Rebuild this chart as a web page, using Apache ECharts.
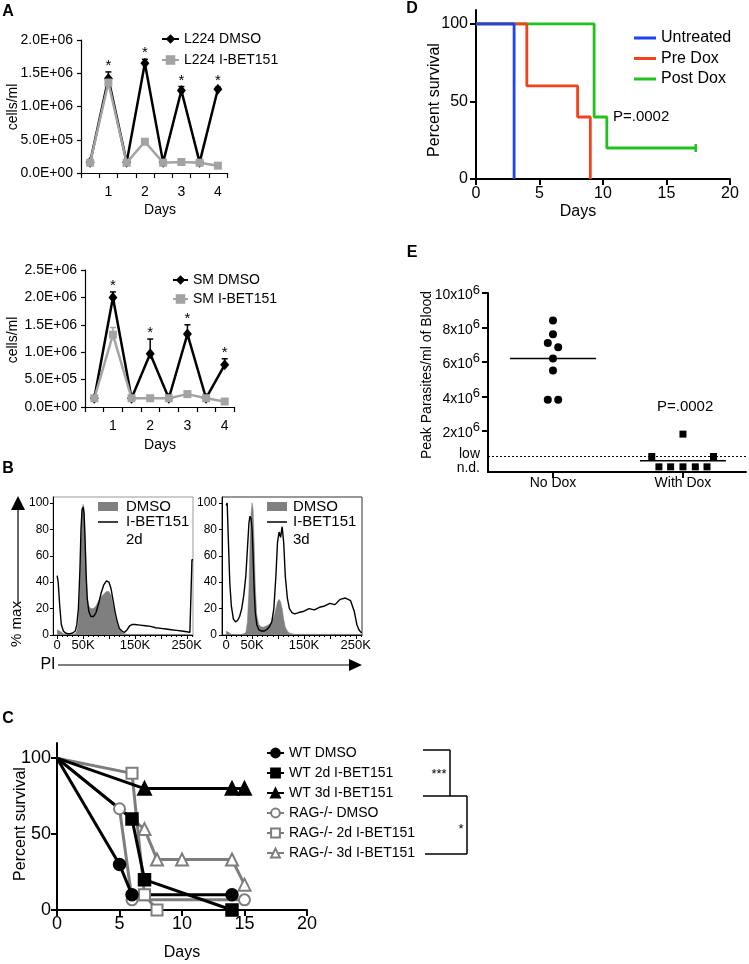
<!DOCTYPE html>
<html><head><meta charset="utf-8">
<script src="https://cdn.jsdelivr.net/npm/echarts@6/dist/echarts.min.js"></script>
<style>html,body{margin:0;padding:0;background:#fff}#c{width:749px;height:964px}</style>
</head><body><div id="c"></div>
<script>
// ---------------- DATA ----------------
// Panel A (top, L224)
const aCategories = ['', '1', '', '2', '', '3', '', '4'];
const aYTickLabels1 = ['0.0E+00', '5.0E+05', '1.0E+06', '1.5E+06', '2.0E+06'];
const aL224Dmso = [1.6e5, 1.42e6, 1.6e5, 1.65e6, 1.6e5, 1.24e6, 1.6e5, 1.26e6];
const aL224DmsoErr = [0, 0.1e6, 0, 0.06e6, 0, 0.06e6, 0, 0.03e6];
const aL224Ibet = [1.55e5, 1.36e6, 1.55e5, 4.7e5, 1.55e5, 1.65e5, 1.55e5, 1.1e5];
const aL224IbetErr = [0, 0.04e6, 0, 0.03e6, 0, 0.04e6, 0, 0];
const aL224Sig = [0, 1, 0, 1, 0, 1, 0, 1];
// Panel A (bottom, SM)
const aYTickLabels2 = ['0.0E+00', '5.0E+05', '1.0E+06', '1.5E+06', '2.0E+06', '2.5E+06'];
const aSmDmso = [1.6e5, 2.0e6, 1.6e5, 0.97e6, 1.6e5, 1.33e6, 1.6e5, 0.77e6];
const aSmDmsoErr = [0, 0.1e6, 0, 0.27e6, 0, 0.17e6, 0, 0.11e6];
const aSmIbet = [1.6e5, 1.32e6, 1.6e5, 1.6e5, 1.6e5, 2.35e5, 1.6e5, 1.0e5];
const aSmIbetErr = [0, 0.13e6, 0, 0, 0, 0.02e6, 0, 0];
const aSmSig = [0, 1, 0, 1, 0, 1, 0, 1];

// Panel B (PI histograms, x in K)
const bXLabels = [0, 50, 150, 250];
const bYLabels = [0, 20, 40, 60, 80, 100];
const b2dBins = [0,2,5,8,12,16,20,25,30,35, 38,41,44,46,48,50,52,54,56,58, 61,65,70,75,80,85,90,95,100,104,
  108,112,116,120,125,130,135,140,145,150, 160,170,180,190,200,210,220,230,240,250, 256,259,260,262];
const b2dIbet = [45,40,22,8,3,1.5,1,1,1.5,3, 8,20,50,80,95,97,92,70,45,28, 18,14,14,17,24,32,38,41,40,35,
  26,17,10,5,3,2,4,7,8,8, 7.5,7,6.5,5.5,5,4.5,4,3.5,3,2.5, 2,2,57,57];
const b2dDmso = [4,4,3,2,1,0.5,0.3,0.3,0.5,1, 3,10,35,70,92,99,96,75,45,28, 22,20,20,22,26,29,31,33,33,30,
  22,14,8,4,2,1,0.5,0.5,0.5,0.5, 0.5,0.5,0.5,0.5,0.5,0.5,0.5,0.5,0.5,0.5, 0.5,0.5,0.5,0];
const b3dBins = [0,2,4,7,10,14,18,22,26,30, 34,38,41,44,46,48,50,52,54,56, 59,63,68,73,78,83,88,92,96,99,
  102,105,108,111,114,118,122,127,132,140, 150,160,170,180,190,200,210,220,230,240, 247,252,256,260,262];
const b3dIbet = [98,100,75,40,22,12,10,11,14,20, 30,45,65,85,90,88,80,60,35,18, 8,4,3,3,4,6,10,20,45,70,
  78,74,82,70,45,28,20,17,16,17, 18,20,19,21,22,24,23,27,28,26, 18,8,4,2,2];
const b3dDmso = [3,3,2,1,0.5,0.3,0.3,0.3,0.3,0.5, 1,2,10,35,70,92,100,95,70,40, 15,8,6,6,7,8,10,14,20,25,
  27,25,20,12,6,3,1.5,1,0.5,0.5, 0.5,0.5,0.5,0.5,0.5,0.5,0.5,0.5,0.5,0.5, 0.5,0.5,0.5,0.5,0];

// Panel C (survival)
const cWtDmsoDays = [0, 5, 6, 14],        cWtDmsoSurv = [100, 30, 10, 10];
const cWt2dDays = [0, 6, 7, 14],          cWt2dSurv = [100, 60, 20, 0];
const cWt3dDays = [0, 7, 14, 15],         cWt3dSurv = [100, 80, 80, 80];
const cRagDmsoDays = [0, 5, 6, 15],       cRagDmsoSurv = [100, 66.7, 6.7, 6.7];
const cRag2dDays = [0, 6, 7, 8],          cRag2dSurv = [100, 90, 10, 0];
const cRag3dDays = [0, 7, 8, 10, 14, 15], cRag3dSurv = [100, 53.3, 33.3, 33.3, 33.3, 16.7];
const cYLabels = [0, 50, 100];

// Panel D (Kaplan-Meier)
const dUntreatedT = [0, 3],            dUntreatedS = [100, 0];
const dPreT = [0, 4, 8, 9],            dPreS = [100, 60, 40, 0];
const dPostT = [0, 9.3, 10.3, 17.3],   dPostS = [100, 40, 20, 20];
const dPostCensorT = [17.3],           dPostCensorS = [20];
const dYLabels = [0, 50, 100];

// Panel E (peak parasitemia)
const eGroups = ['No Dox', 'With Dox'];
const eGroupPos = [1, 3];
const eNoDox = [8.4e6, 7.6e6, 7.1e6, 6.85e6, 6.2e6, 5.5e6, 3.8e6, 3.8e6];
const eNoDoxJitter = [0, 0, -0.08, 0.08, 0, 0, -0.08, 0.08];
const eWithDox = [1.8e6, 0.5e6, 0.5e6, -0.1e6, -0.1e6, -0.1e6, -0.1e6, -0.1e6];
const eWithDoxJitter = [0, -0.48, 0.47, -0.37, -0.19, 0, 0.19, 0.37];
const eMedians = [6.2e6, 0.25e6];
const eLowLimit = 0.5e6;
const eNdValue = -0.1e6;
const eYTicks = [2e6, 4e6, 6e6, 8e6, 10e6];
const eSpecialLabels = ['low', 'n.d.'];

// ---------------- CHART ----------------
const FONT = '"Liberation Sans", Arial, sans-serif';
const FONTNAME = 'Liberation Sans';
const chart = echarts.init(document.getElementById('c'), null, {width: 749, height: 964});

function axis(o) {
  const a = {
    gridIndex: o.grid, type: o.type || 'value',
    splitLine: {show: false},
    axisLine: {show: o.line !== false, onZero: false, lineStyle: {color: o.lc || '#000', width: o.lw || 1}},
    axisTick: {show: o.tick !== false, length: o.tl || 5, lineStyle: {color: '#000', width: o.tw || o.lw || 1}},
    axisLabel: {show: o.label !== false, color: '#000', fontSize: o.fs || 14, fontFamily: FONTNAME, margin: o.m || 8}
  };
  if (o.data) a.data = o.data;
  if (o.min !== undefined) a.min = o.min;
  if (o.max !== undefined) a.max = o.max;
  if (o.interval) a.interval = o.interval;
  if (o.tickVals) a.axisTick.customValues = o.tickVals;
  if (o.labelVals) a.axisLabel.customValues = o.labelVals;
  if (o.fmt) a.axisLabel.formatter = o.fmt;
  if (o.rich) a.axisLabel.rich = o.rich;
  if (o.position) a.position = o.position;
  if (o.type === 'category') { a.axisLabel.interval = 0; a.axisTick.interval = 0; a.boundaryGap = true; }
  return a;
}

const bMajor = [0, 50, 100, 150, 200, 250];
const bMinor = [];
for (let v = 10; v < 262; v += 10) if (v % 50) bMinor.push(v);
const kFmt = v => v === 0 ? '0' : v + 'K';

const grids = [
  {left: 81, top: 40, width: 146, height: 133},
  {left: 85, top: 270, width: 149, height: 137},
  {left: 53, top: 497, width: 140, height: 138, show: true, borderColor: '#9a9a9a', borderWidth: 1, backgroundColor: 'transparent'},
  {left: 222, top: 497, width: 140, height: 138, show: true, borderColor: '#333', borderWidth: 1, backgroundColor: 'transparent'},
  {left: 57, top: 743, width: 250, height: 167},
  {left: 476, top: 10, width: 254, height: 169},
  {left: 488, top: 293, width: 258, height: 179}
];

const xAxis = [
  axis({grid: 0, type: 'category', data: aCategories, lw: 1.2, m: 12}),
  axis({grid: 1, type: 'category', data: aCategories, lw: 1.2, m: 12}),
  axis({grid: 2, min: -8, max: 262, tl: 4, tickVals: bMajor, labelVals: bXLabels, fmt: kFmt, fs: 13, m: 4, position: 'bottom'}),
  axis({grid: 2, min: -8, max: 262, line: false, label: false, tl: 2, tickVals: bMinor, position: 'bottom'}),
  axis({grid: 3, min: -8, max: 262, tl: 4, tickVals: bMajor, labelVals: bXLabels, fmt: kFmt, fs: 13, m: 4, position: 'bottom'}),
  axis({grid: 3, min: -8, max: 262, line: false, label: false, tl: 2, tickVals: bMinor, position: 'bottom'}),
  axis({grid: 4, min: 0, max: 20, interval: 5, lw: 2, tl: 6, fs: 18, m: 5}),
  axis({grid: 5, min: 0, max: 20, interval: 5, lw: 2, tl: 6, fs: 16, m: 7}),
  axis({grid: 6, min: 0, max: 3.97, lw: 2, tl: 6, fs: 14, m: 4, tickVals: eGroupPos, labelVals: eGroupPos,
        fmt: v => eGroups[eGroupPos.indexOf(Math.round(v))] || ''})
];

const yAxis = [
  axis({grid: 0, min: 0, max: 2e6, interval: 5e5, lw: 1.2, tl: 4, fs: 14, m: 8, fmt: v => aYTickLabels1[Math.round(v / 5e5)]}),
  axis({grid: 1, min: 0, max: 2.5e6, interval: 5e5, lw: 1.2, tl: 4, fs: 14, m: 8, fmt: v => aYTickLabels2[Math.round(v / 5e5)]}),
  axis({grid: 2, min: 0, max: 104.5, tl: 3, tickVals: bYLabels, labelVals: bYLabels, fs: 12, m: 4}),
  axis({grid: 3, min: 0, max: 104.5, tl: 3, tickVals: bYLabels, labelVals: bYLabels, fs: 12, m: 5}),
  axis({grid: 4, min: 0, max: 110, lw: 2, tl: 6, tickVals: cYLabels, labelVals: cYLabels, fs: 18, m: 6}),
  axis({grid: 5, min: 0, max: 109, lw: 2, tl: 6, tickVals: dYLabels, labelVals: dYLabels, fs: 16, m: 8}),
  axis({grid: 6, min: -0.4e6, max: 10e6, lw: 2, tl: 6, tickVals: eYTicks, labelVals: eYTicks, fs: 14, m: 8,
        fmt: v => '{m|' + Math.round(v / 1e6) + 'x10}{s|6}',
        rich: {m: {fontSize: 14, fontFamily: FONTNAME, color: '#000', verticalAlign: 'bottom'},
               s: {fontSize: 13, fontFamily: FONTNAME, color: '#000', verticalAlign: 'top', padding: [0, 0, 6, 0]}}})
];

function errSeries(xi, values, errs, sig, color) {
  return {
    type: 'custom', xAxisIndex: xi, yAxisIndex: xi, z: 3, silent: true,
    encode: {x: 0, y: 1},
    data: values.map((v, i) => [i, v, errs[i], sig ? sig[i] : 0]),
    renderItem: (params, api) => {
      const i = api.value(0), v = api.value(1), e = api.value(2), s = api.value(3);
      const p0 = api.coord([i, v]), p1 = api.coord([i, v + e]);
      const ch = [];
      if (e > 0) {
        ch.push({type: 'line', shape: {x1: p0[0], y1: p0[1], x2: p1[0], y2: p1[1]}, style: {stroke: color, lineWidth: 1.5}});
        ch.push({type: 'line', shape: {x1: p1[0] - 3, y1: p1[1], x2: p1[0] + 3, y2: p1[1]}, style: {stroke: color, lineWidth: 1.5}});
      }
      if (s) ch.push({type: 'text', style: {text: '*', x: p1[0], y: p1[1] - 6, align: 'center', verticalAlign: 'middle', font: '15px ' + FONT, fill: '#000'}});
      return {type: 'group', children: ch};
    }
  };
}

function aLine(name, xi, values, dmso) {
  return {
    name, type: 'line', xAxisIndex: xi, yAxisIndex: xi, data: values, z: dmso ? 4 : 5,
    symbol: dmso ? 'diamond' : 'rect', symbolSize: dmso ? [9, 11] : 8,
    itemStyle: {color: dmso ? '#000' : '#a3a3a3'},
    lineStyle: {color: dmso ? '#000' : '#a3a3a3', width: 2.5}
  };
}

function hist(name, xi, yi, bins, vals, filled) {
  return {
    name, type: 'line', xAxisIndex: xi, yAxisIndex: yi, symbol: 'none', smooth: false, z: filled ? 2 : 3,
    data: bins.map((b, i) => [b, vals[i]]),
    lineStyle: filled ? {color: '#7f7f7f', width: 0.5} : {color: '#000', width: 1.4},
    areaStyle: filled ? {color: '#7f7f7f', opacity: 1} : undefined
  };
}

const GRAY = '#7d7d7d';
function cLine(name, days, surv, symbol, color, size) {
  return {
    name, type: 'line', xAxisIndex: 6, yAxisIndex: 4, symbol, symbolSize: size,
    data: days.map((d, i) => i === 0 ? {value: [d, surv[i]], symbol: 'none'} : [d, surv[i]]),
    lineStyle: {color, width: 3},
    itemStyle: {color, borderColor: color, borderWidth: 2.5}
  };
}

function kmLine(name, t, s, color) {
  return {
    name, type: 'line', xAxisIndex: 7, yAxisIndex: 5, step: 'end', symbol: 'none',
    data: t.map((d, i) => [d, s[i]]),
    lineStyle: {color, width: 2.8}, itemStyle: {color}
  };
}

const BLUE = '#1d43f2', RED = '#f5401c', GREEN = '#22c21e';

const series = [
  // A top
  errSeries(0, aL224Dmso, aL224DmsoErr, aL224Sig, '#000'),
  errSeries(0, aL224Ibet, aL224IbetErr, null, '#a3a3a3'),
  aLine('L224 DMSO', 0, aL224Dmso, true),
  aLine('L224 I-BET151', 0, aL224Ibet, false),
  // A bottom
  errSeries(1, aSmDmso, aSmDmsoErr, aSmSig, '#000'),
  errSeries(1, aSmIbet, aSmIbetErr, null, '#a3a3a3'),
  aLine('SM DMSO', 1, aSmDmso, true),
  aLine('SM I-BET151', 1, aSmIbet, false),
  // B
  hist('b2d-dmso', 2, 2, b2dBins, b2dDmso, true),
  hist('b2d-ibet', 2, 2, b2dBins, b2dIbet, false),
  hist('b3d-dmso', 4, 3, b3dBins, b3dDmso, true),
  hist('b3d-ibet', 4, 3, b3dBins, b3dIbet, false),
  // C (gray first, black on top)
  cLine('RAG-/- DMSO', cRagDmsoDays, cRagDmsoSurv, 'emptyCircle', GRAY, 11),
  cLine('RAG-/- 2d I-BET151', cRag2dDays, cRag2dSurv, 'emptyRect', GRAY, 11),
  cLine('RAG-/- 3d I-BET151', cRag3dDays, cRag3dSurv, 'emptyTriangle', GRAY, 12),
  cLine('WT DMSO', cWtDmsoDays, cWtDmsoSurv, 'circle', '#000', 11),
  cLine('WT 2d I-BET151', cWt2dDays, cWt2dSurv, 'rect', '#000', 11),
  cLine('WT 3d I-BET151', cWt3dDays, cWt3dSurv, 'triangle', '#000', 12),
  // D
  kmLine('Post Dox', dPostT, dPostS, GREEN),
  kmLine('Pre Dox', dPreT, dPreS, RED),
  kmLine('Untreated', dUntreatedT, dUntreatedS, BLUE),
  {name: 'post-censor', type: 'scatter', xAxisIndex: 7, yAxisIndex: 5, symbol: 'rect', symbolSize: [2.5, 8],
   itemStyle: {color: GREEN, opacity: 1}, data: dPostCensorT.map((t, i) => [t, dPostCensorS[i]])},
  // E
  {name: 'e-low', type: 'line', xAxisIndex: 8, yAxisIndex: 6, data: [], symbol: 'none',
   markLine: {silent: true, symbol: 'none', label: {show: false}, lineStyle: {type: [2, 2], color: '#000', width: 1},
     data: [{yAxis: eLowLimit}]}},
  {name: 'e-nodox', type: 'scatter', xAxisIndex: 8, yAxisIndex: 6, symbol: 'circle', symbolSize: 8,
   itemStyle: {color: '#000', opacity: 1}, data: eNoDox.map((v, i) => [eGroupPos[0] + eNoDoxJitter[i], v])},
  {name: 'e-withdox', type: 'scatter', xAxisIndex: 8, yAxisIndex: 6, symbol: 'rect', symbolSize: 7,
   itemStyle: {color: '#000', opacity: 1}, data: eWithDox.map((v, i) => [eGroupPos[1] + eWithDoxJitter[i], v])},
  {name: 'e-median', type: 'custom', xAxisIndex: 8, yAxisIndex: 6, encode: {x: 0, y: 1},
   data: eMedians.map((m, i) => [eGroupPos[i], m]),
   renderItem: (params, api) => {
     const p = api.coord([api.value(0), api.value(1)]);
     return {type: 'line', shape: {x1: p[0] - 43, y1: p[1], x2: p[0] + 43, y2: p[1]}, style: {stroke: '#000', lineWidth: 1.5}};
   }},
  // E special y labels (low / n.d.) placed through the y scale
  {name: 'e-speclab', type: 'custom', xAxisIndex: 8, yAxisIndex: 6, encode: {x: 0, y: 1}, silent: true,
   data: [[0, eLowLimit, 0], [0, eNdValue, 1]],
   renderItem: (params, api) => {
     const p = api.coord([api.value(0), api.value(1)]);
     return {type: 'text', style: {text: eSpecialLabels[api.value(2)], x: p[0] - 8, y: p[1] + (api.value(2) ? 1 : -2),
       align: 'right', verticalAlign: 'middle', font: '14px ' + FONT, fill: '#000'}};
   }}
];

const legTxt = fs => ({fontSize: fs, color: '#000', fontFamily: FONTNAME});
const legend = [
  {data: ['L224 DMSO', 'L224 I-BET151'], orient: 'vertical', left: 161, top: 32, padding: 0, itemWidth: 17, itemHeight: 12, itemGap: 7, textStyle: legTxt(14), selectedMode: false},
  {data: ['SM DMSO', 'SM I-BET151'], orient: 'vertical', left: 172, top: 273, padding: 0, itemWidth: 15, itemHeight: 12, itemGap: 5, textStyle: legTxt(14), selectedMode: false},
  {data: ['WT DMSO', 'WT 2d I-BET151', 'WT 3d I-BET151', 'RAG-/- DMSO', 'RAG-/- 2d I-BET151', 'RAG-/- 3d I-BET151'],
   orient: 'vertical', left: 266, top: 746, padding: 0, itemWidth: 17, itemHeight: 11, itemGap: 6, textStyle: legTxt(14), selectedMode: false},
  {data: [{name: 'Untreated', icon: 'rect'}, {name: 'Pre Dox', icon: 'rect'}, {name: 'Post Dox', icon: 'rect'}],
   orient: 'vertical', left: 634, top: 30, padding: 0, itemWidth: 22, itemHeight: 3, itemGap: 4.5, textStyle: legTxt(16), selectedMode: false}
];

function txt(text, x, y, o) {
  o = o || {};
  return {type: 'text', x, y, rotation: o.rot || 0, z: 100,
    style: {text, fill: '#000', font: (o.bold ? 'bold ' : '') + (o.size || 14) + 'px ' + FONT,
      align: o.align || 'center', verticalAlign: 'middle'}};
}
function ln(x1, y1, x2, y2, w) {
  return {type: 'line', z: 100, shape: {x1, y1, x2, y2}, style: {stroke: '#000', lineWidth: w || 1.5}};
}
const R = Math.PI / 2;
const graphics = [
  txt('A', 8, 12, {bold: true, size: 16}),
  txt('B', 8, 469, {bold: true, size: 16}),
  txt('C', 8, 719, {bold: true, size: 16}),
  txt('D', 412, 9, {bold: true, size: 16}),
  txt('E', 412, 253, {bold: true, size: 16}),
  // A
  txt('cells/ml', 13, 107, {rot: R, size: 14}),
  txt('cells/ml', 13, 340, {rot: R, size: 14}),
  txt('Days', 160, 210, {size: 14}),
  txt('Days', 160, 445, {size: 14}),
  // B legends
  {type: 'rect', z: 100, shape: {x: 98, y: 502, width: 20, height: 9}, style: {fill: '#808080'}},
  txt('DMSO', 126, 507, {align: 'left', size: 15}),
  ln(98, 522, 118, 522, 1.5),
  txt('I-BET151', 126, 522, {align: 'left', size: 15}),
  txt('2d', 126, 540, {align: 'left', size: 15}),
  {type: 'rect', z: 100, shape: {x: 267, y: 502, width: 20, height: 9}, style: {fill: '#808080'}},
  txt('DMSO', 293, 507, {align: 'left', size: 15}),
  ln(267, 522, 287, 522, 1.5),
  txt('I-BET151', 293, 522, {align: 'left', size: 15}),
  txt('3d', 293, 540, {align: 'left', size: 15}),
  // B arrows
  ln(18, 508, 18, 604, 1.2),
  {type: 'polygon', z: 100, shape: {points: [[18, 496], [11, 510], [25, 510]]}, style: {fill: '#000'}},
  txt('% max', 17, 624, {rot: R, size: 15}),
  txt('PI', 48, 665, {size: 16}),
  ln(58, 665, 352, 665, 1.2),
  {type: 'polygon', z: 100, shape: {points: [[362, 665], [349, 659], [349, 671]]}, style: {fill: '#000'}},
  // C
  txt('Percent survival', 21, 824, {rot: R, size: 16}),
  txt('Days', 182, 953, {size: 16}),
  ln(423, 750, 450, 750), ln(450, 750, 450, 796), ln(423, 796, 467, 796),
  ln(467, 796, 467, 854), ln(425, 854, 467, 854),
  txt('***', 439, 774, {size: 13}),
  txt('*', 461, 829, {size: 13}),
  // D
  txt('Percent survival', 435, 100, {rot: R, size: 16}),
  txt('Days', 578, 212, {size: 16}),
  txt('P=.0002', 613, 117, {align: 'left', size: 15}),
  // E
  txt('Peak Parasites/ml of Blood', 427, 375, {rot: R, size: 14}),
  txt('P=.0002', 657, 407, {align: 'left', size: 15})
];

chart.setOption({
  animation: false,
  backgroundColor: '#fff',
  textStyle: {fontFamily: FONTNAME, color: '#000'},
  grid: grids, xAxis, yAxis, legend, series,
  graphic: {elements: graphics}
});
</script></body></html>
